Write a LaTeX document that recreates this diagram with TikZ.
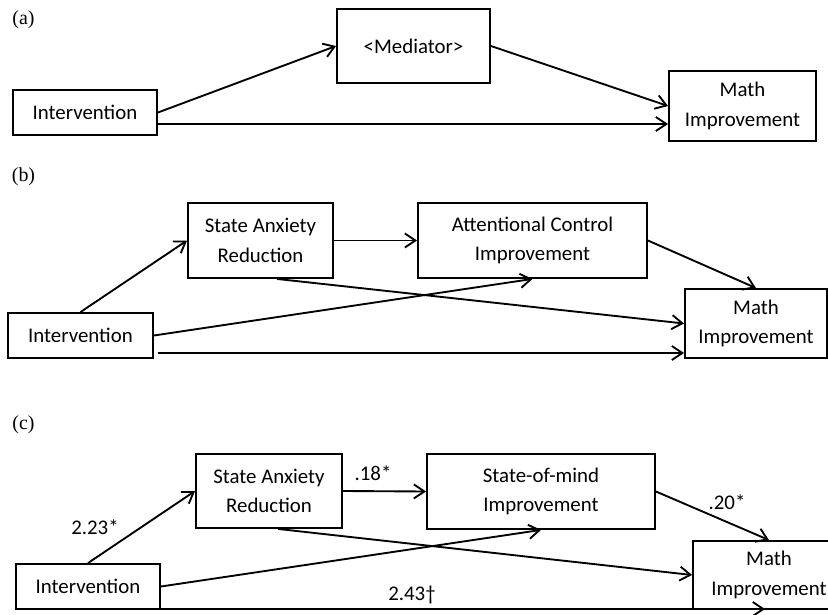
\documentclass[tikz,border=0pt]{standalone}
\usepackage{fontspec}
\setmainfont{Carlito}
\newfontfamily\panelfont{Liberation Serif}
\usetikzlibrary{arrows.meta,calc}
\newlength\px
\setlength\px{0.03cm}

\begin{document}
\begin{tikzpicture}[x=0.03cm, y=-0.03cm, >={Straight Barb[length=9pt,width=12pt]}, line width=1.6pt,
  every node/.style={font=\fontsize{17.8pt}{25pt}\selectfont},
  box/.style={draw, line width=1.6pt, align=center, inner sep=0pt},
  panel/.style={font=\panelfont\fontsize{17pt}{19pt}\selectfont},
  coef/.style={font=\fontsize{17.8pt}{20pt}\selectfont}]
  \clip (0,0) rectangle (828,615);

  % (a)
  \node[panel] (la) at (23.5,20) {(a)};
  \node[box, minimum width=144\px, minimum height=45\px] (intA) at (85,112.5) {Intervention};
  \node[box, minimum width=153\px, minimum height=74\px] (medA) at (413.5,46) {<Mediator>};
  \node[box, minimum width=147\px, minimum height=70\px] (mathA) at (742.5,106) {Math\\Improvement};
  \coordinate (intA-low) at ($(intA.east)+(0,11.5)$);
  \draw[->] (intA.east) -- (medA.west);
  \draw[->] (medA.east) -- (mathA.west);
  \draw[->] (intA-low) -- (intA-low -| mathA.west);

  % (b)
  \node[panel] (lb) at (23.5,177) {(b)};
  \node[box, minimum width=145\px, minimum height=45\px] (intB) at (80.5,335.5) {Intervention};
  \node[box, minimum width=145\px, minimum height=75\px] (saB) at (260.5,240.5) {State Anxiety\\Reduction};
  \node[box, minimum width=229\px, minimum height=75\px] (attB) at (532.5,240.5) {Attentional Control\\Improvement};
  \node[box, minimum width=142\px, minimum height=69\px] (mathB) at (756,323.5) {Math\\Improvement};
  \coordinate (intB-low) at ($(intB.east)+(4,17.5)$);
  \draw[->] (intB.north) -- (saB.west);
  \draw[->] (saB.east) -- (attB.west);
  \draw[->] (attB.east) -- (mathB.north);
  \draw[->] ($(saB.south)+(16.5,0)$) -- (mathB.west);
  \draw[->] (intB.east) -- (attB.south);
  \draw[->] (intB-low) -- (intB-low -| mathB.west);

  % (c)
  \node[panel] (lc) at (23.5,425) {(c)};
  \node[box, minimum width=144\px, minimum height=45\px] (intC) at (88,586.5) {Intervention};
  \node[box, minimum width=146\px, minimum height=74\px] (saC) at (269,491) {State Anxiety\\Reduction};
  \node[box, minimum width=228\px, minimum height=75\px] (somC) at (541,491.5) {State-of-mind\\Improvement};
  \node[box, minimum width=152\px, minimum height=68\px] (mathC) at (769,575) {Math\\Improvement};
  \coordinate (intC-low) at ($(intC.east)+(0,22.5)$);
  \coordinate (mathC-low) at ($(mathC.south)+(-4,0)$);
  \draw[->] (intC.north) -- (saC.west);
  \draw[->] (saC.east) -- (somC.west);
  \draw[->] (somC.east) -- (mathC.north);
  \draw[->] ($(saC.south)+(9,0)$) -- (mathC.west);
  \draw[->] (intC.east) -- (somC.south);
  \draw[->] (intC-low) -- (intC-low -| mathC-low);
  \node[coef] (b1) at (95,527) {2.23*};
  \node[coef] (b2) at (373,473) {.18*};
  \node[coef] (b3) at (727,502) {.20*};
  \node[coef] (b4) at (412,595) {2.43†};
\end{tikzpicture}
\end{document}
